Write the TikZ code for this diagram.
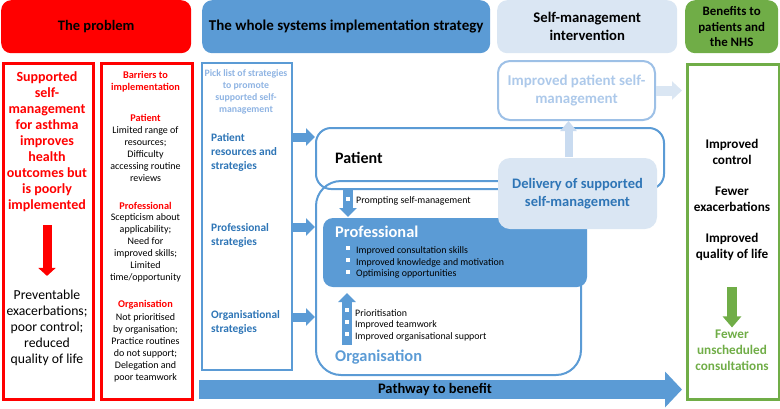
\documentclass[tikz,border=0pt]{standalone}
\usepackage{fontspec}
\setmainfont{Carlito}
\usepackage{tikz}
\usetikzlibrary{arrows.meta}
\definecolor{probred}{HTML}{FF0000}
\definecolor{stratblue}{HTML}{5B9BD5}
\definecolor{darkblue}{HTML}{2E75B6}
\definecolor{pickblue}{HTML}{8FB4E3}
\definecolor{paleblue}{HTML}{DAE6F3}
\definecolor{fadeblue}{HTML}{ADC9EA}
\definecolor{upblue}{HTML}{C9DBF0}
\definecolor{benefitgreen}{HTML}{70AD47}

\tikzset{
  head/.style={rounded corners=10pt, anchor=north west, inner sep=0pt, align=center,
    font=\bfseries\fontsize{14.5}{17}\selectfont},
  panel/.style={draw, line width=2pt, anchor=north west, inner sep=0pt, align=center},
  txt/.style={align=center, inner sep=0pt},
  strat/.style={align=left, anchor=west, inner sep=0pt, text=darkblue,
    font=\bfseries\fontsize{11.4}{14}\selectfont},
  item/.style={anchor=west, inner sep=0pt, font=\fontsize{9.9}{10}\selectfont},
  sq/.style={fill=white, minimum size=4pt, inner sep=0pt},
  bluearrow/.style={draw=stratblue, line width=9pt, -{Triangle[width=17pt,length=9pt]}},
  redarrow/.style={draw=probred, line width=9pt, -{Triangle[width=17pt,length=8pt]}},
  greenarrow/.style={draw=benefitgreen, line width=10pt, -{Triangle[width=18pt,length=11pt]}}
}

\begin{document}
\begin{tikzpicture}[x=1pt,y=-1pt]
\useasboundingbox (0,0) rectangle (780,408);

% headers
\node[head, fill=probred, minimum width=190pt, minimum height=53pt] (problemhead) at (1,0) {The problem};
\node[head, fill=stratblue, minimum width=288pt, minimum height=53pt,
  font=\bfseries\fontsize{15}{17}\selectfont] (strategyhead) at (202,0) {The whole systems implementation strategy};
\node[head, fill=paleblue, minimum width=180pt, minimum height=53pt,
  font=\bfseries\fontsize{14.7}{18}\selectfont] (interventionhead) at (497,0) {Self-management\\intervention};
\node[head, fill=benefitgreen, minimum width=93pt, minimum height=53pt,
  font=\bfseries\fontsize{12.9}{15.5}\selectfont] (benefithead) at (685,0) {Benefits to\\patients and\\the NHS};

% the problem
\node[panel, draw=probred, line width=2.5pt, minimum width=90pt, minimum height=336pt] (aimbox) at (2,62) {};
\node[panel, draw=probred, line width=2.5pt, minimum width=91pt, minimum height=336pt] (barrierbox) at (100,62) {};

\node[txt, text=probred, font=\bfseries\fontsize{14}{16}\selectfont] (aim) at (47,142)
  {Supported\\self-\\management\\for asthma\\improves\\health\\outcomes but\\is poorly\\implemented};
\node[txt, font=\fontsize{13.7}{16}\selectfont] (harm) at (47,328)
  {Preventable\\exacerbations;\\poor control;\\reduced\\quality of life};
\draw[redarrow, shorten <=13pt, shorten >=14pt] (aim.south) -- (harm.north);

\node[txt, text=probred, font=\bfseries\fontsize{10.3}{12}\selectfont] (barrierhead) at (145.5,82) {Barriers to\\implementation};
\node[txt, text=probred, font=\bfseries\fontsize{10.3}{12}\selectfont] (patientbar) at (145.5,118) {Patient};
\node[txt, font=\fontsize{10}{12}\selectfont] (patientbartext) at (145.5,154)
  {Limited range of\\resources;\\Difficulty\\accessing routine\\reviews};
\node[txt, text=probred, font=\bfseries\fontsize{10.3}{12}\selectfont] (profbar) at (145.5,206) {Professional};
\node[txt, font=\fontsize{10}{12}\selectfont] (profbartext) at (145.5,248)
  {Scepticism about\\applicability;\\Need for\\improved skills;\\Limited\\time/opportunity};
\node[txt, text=probred, font=\bfseries\fontsize{10.3}{12}\selectfont] (orgbar) at (145.5,305) {Organisation};
\node[txt, font=\fontsize{10}{12}\selectfont] (orgbartext) at (145.5,347.5)
  {Not prioritised\\by organisation;\\Practice routines\\do not support;\\Delegation and\\poor teamwork};

% strategy
\node[panel, draw=stratblue, minimum width=90pt, minimum height=307pt] (picklist) at (201,62) {};
\node[txt, text=pickblue, font=\bfseries\fontsize{9.8}{12}\selectfont] (picktitle) at (246,92)
  {Pick list of strategies\\to promote\\supported self-\\management};
\node[strat] (patientstrat) at (211,152) {Patient\\resources and\\strategies};
\node[strat] (profstrat) at (211,235) {Professional\\strategies};
\node[strat] (orgstrat) at (211,322) {Organisational\\strategies};

\node[panel, draw=stratblue, rounded corners=15pt, minimum width=348pt, minimum height=61pt] (patientbox) at (315,127) {};
\node[panel, draw=stratblue, rounded corners=25pt, minimum width=265pt, minimum height=194pt] (orgbox) at (315,180) {};
\node[panel, draw=none, fill=stratblue, rounded corners=10pt, minimum width=264pt, minimum height=69pt] (profbox) at (322,217) {};

\node[anchor=west, inner sep=0pt, font=\bfseries\fontsize{16}{18}\selectfont] (patientlabel) at (335,158) {Patient};
\node[anchor=west, inner sep=0pt, text=white, font=\bfseries\fontsize{16.4}{18}\selectfont] (proflabel) at (335,232) {Professional};
\node[anchor=west, inner sep=0pt, text=stratblue, font=\bfseries\fontsize{16.4}{18}\selectfont] (orglabel) at (335,357) {Organisation};

\coordinate (patientin) at (315,137);
\coordinate (profin) at (315,227);
\coordinate (orgin) at (315,317);
\draw[bluearrow] (picklist.east |- patientin) -- (patientin);
\draw[bluearrow] (picklist.east |- profin) -- (profin);
\draw[bluearrow] (picklist.east |- orgin) -- (orgin);

% prompting
\coordinate (promptfrom) at (348,188);
\draw[bluearrow, line width=10pt] (promptfrom) -- (profbox.north -| promptfrom);
\node[sq] (promptsq) at (348,199) {};
\node[item] (prompting) at (356,201) {Prompting self-management};

\node[sq] (profsq1) at (348,248) {};
\node[sq] (profsq2) at (348,260) {};
\node[sq] (profsq3) at (348,272) {};
\node[item] (profitem1) at (356,251) {Improved consultation skills};
\node[item] (profitem2) at (356,263) {Improved knowledge and motivation};
\node[item] (profitem3) at (356,274) {Optimising opportunities};

% organisation support
\coordinate (orgfrom) at (347,345);
\coordinate (orgto) at (347,293);
\draw[bluearrow, line width=10pt] (orgfrom) -- (orgto);
\node[sq] (orgsq1) at (347,310) {};
\node[sq] (orgsq2) at (347,322) {};
\node[sq] (orgsq3) at (347,334) {};
\node[item] (orgitem1) at (355,313) {Prioritisation};
\node[item] (orgitem2) at (355,325) {Improved teamwork};
\node[item] (orgitem3) at (355,337) {Improved organisational support};

% intervention
\node[panel, draw=fadeblue!80!stratblue, rounded corners=12pt, minimum width=157pt, minimum height=59pt,
  text=fadeblue, font=\bfseries\fontsize{15}{18}\selectfont] (improvedbox) at (497,60)
  {Improved patient self-\\management};
\node[panel, draw=none, fill=paleblue, rounded corners=12pt, minimum width=159pt, minimum height=71pt,
  text=darkblue, font=\bfseries\fontsize{14.5}{18}\selectfont] (deliverybox) at (497,157)
  {Delivery of supported\\self-management};
\draw[draw=upblue, line width=8pt, -{Triangle[width=16pt,length=10pt]}]
  ([xshift=-9pt]deliverybox.north) -- ([xshift=-8pt]improvedbox.south);

% benefits
\node[panel, draw=benefitgreen, line width=2.5pt, minimum width=92pt, minimum height=335pt] (benefitbox) at (686,63) {};
\draw[draw=paleblue, line width=10pt, -{Triangle[width=18pt,length=10pt]}, shorten >=4pt]
  (improvedbox.east) -- (benefitbox.west |- improvedbox.east);

\node[txt, font=\bfseries\fontsize{13.2}{16}\selectfont] (control) at (732,152) {Improved\\control};
\node[txt, font=\bfseries\fontsize{13.2}{16}\selectfont] (exacerb) at (732,199) {Fewer\\exacerbations};
\node[txt, font=\bfseries\fontsize{13.2}{16}\selectfont] (qol) at (732,247) {Improved\\quality of life};
\node[txt, text=benefitgreen, font=\bfseries\fontsize{13.2}{16}\selectfont] (fewer) at (732,350)
  {Fewer\\unscheduled\\consultations};
\draw[greenarrow, shorten <=26pt, shorten >=2pt] (qol.south) -- (fewer.north);

% pathway
\coordinate (pathstart) at (199,389.5);
\draw[draw=stratblue, line width=19pt, -{Triangle[width=35pt,length=17pt]}, shorten >=4pt]
  (pathstart) -- (benefitbox.west |- pathstart);
\node[inner sep=0pt, font=\bfseries\fontsize{14.5}{15}\selectfont] (pathway) at (435,390) {Pathway to benefit};
\end{tikzpicture}
\end{document}
